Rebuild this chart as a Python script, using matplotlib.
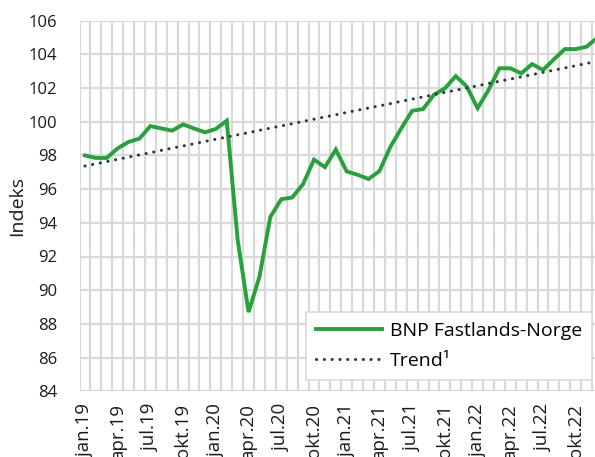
import matplotlib
matplotlib.use("Agg")
import matplotlib.pyplot as plt
from matplotlib.ticker import MultipleLocator, FixedLocator

plt.rcParams['font.family'] = ['Open Sans', 'DejaVu Sans']

# Maaneder jan.19 - des.22
maaneder = ["jan", "feb", "mar", "apr", "mai", "jun",
            "jul", "aug", "sep", "okt", "nov", "des"]
kategorier = [f"{m}.{aar}" for aar in ["19", "20", "21", "22"] for m in maaneder]

bnp = [98.0, 97.85, 97.85, 98.42, 98.8, 99.0, 99.74, 99.6, 99.47, 99.84, 99.6, 99.37,
       99.57, 100.06, 93.0, 88.7, 90.8, 94.35, 95.4, 95.5, 96.3, 97.75, 97.3, 98.35,
       97.05, 96.85, 96.6, 97.07, 98.5, 99.6, 100.65, 100.75, 101.6, 101.98, 102.7, 102.1,
       100.8, 101.88, 103.17, 103.17, 102.87, 103.42, 103.07, 103.7, 104.31, 104.31, 104.45, 105.0]

trend = [97.37, 97.50, 97.63, 97.77, 97.90, 98.03, 98.16, 98.30, 98.43, 98.56, 98.69, 98.83,
         98.96, 99.09, 99.22, 99.35, 99.49, 99.62, 99.75, 99.88, 100.02, 100.15, 100.28, 100.41,
         100.55, 100.68, 100.81, 100.94, 101.07, 101.21, 101.34, 101.47, 101.60, 101.74, 101.87, 102.00,
         102.13, 102.27, 102.40, 102.53, 102.66, 102.79, 102.93, 103.06, 103.19, 103.32, 103.46, 103.59]

x = list(range(len(kategorier)))

fig = plt.figure(figsize=(5.95, 4.57), dpi=100)
# plottflaten gaar litt utenfor hoyre kant, som i originalen
ax = fig.add_axes([79.5 / 595, 65.7 / 457, 523.5 / 595, 370.7 / 457])

grid_farge = "#d9d9d9"
tekst_farge = "#1a1a1a"
ax.set_xlim(-0.5, len(x) - 0.5)
ax.set_ylim(84, 106)
ax.yaxis.set_major_locator(MultipleLocator(2))
ax.xaxis.set_major_locator(FixedLocator(x[::3]))
ax.xaxis.set_minor_locator(FixedLocator([i - 0.5 for i in range(len(x) + 1)]))
ax.set_xticklabels(kategorier[::3], rotation=90, fontsize=13.5, color=tekst_farge)
ax.tick_params(axis="y", labelsize=12, labelcolor=tekst_farge, length=0, pad=16)
ax.tick_params(axis="x", which="both", length=0, pad=9)

ax.grid(True, which="minor", axis="x", color=grid_farge, linewidth=1.6)
ax.grid(True, which="major", axis="y", color=grid_farge, linewidth=1.6)
ax.set_axisbelow(True)
for s in ax.spines.values():
    s.set_visible(False)

ax.plot(x, bnp, color="#25a23a", linewidth=2.8, label="BNP Fastlands-Norge",
        solid_joinstyle="miter")
ax.plot(x, trend, color="#253b45", linewidth=2.2, linestyle=(0, (0.05, 2.5)),
        dash_capstyle="round", label="Trend¹")

ax.set_ylabel("Indeks", fontsize=14, color=tekst_farge, labelpad=2)

leg = ax.legend(loc="lower right", bbox_to_anchor=((592 - 79.5) / 523.5, (391.3 - 380) / 370.7),
                fontsize=14, frameon=True, fancybox=False, framealpha=1,
                edgecolor=grid_farge, handlelength=3.4, handletextpad=0.4,
                borderpad=0.5, labelspacing=0.65, borderaxespad=0)
leg.get_frame().set_linewidth(1.2)

fig.savefig("out.png", dpi=100)
plt.close(fig)
